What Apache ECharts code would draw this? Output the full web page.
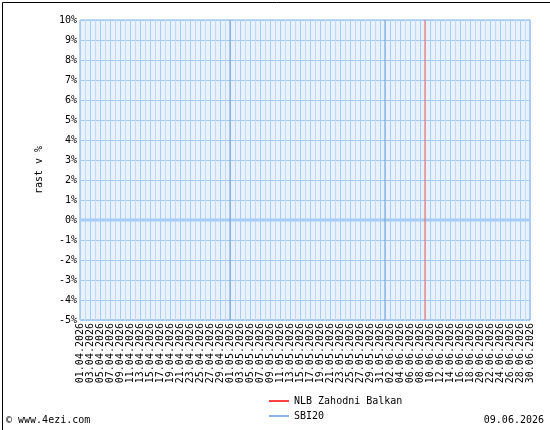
<!DOCTYPE html>
<html>
<head>
<meta charset="utf-8">
<script src="https://cdn.jsdelivr.net/npm/echarts@6/dist/echarts.min.js"></script>
<style>
html,body{margin:0;padding:0;background:#fff;}
#c{width:550px;height:430px;}
</style>
</head>
<body>
<div id="c"></div>
<script>
var categories = [
'01.04.2026','02.04.2026','03.04.2026','04.04.2026','05.04.2026','06.04.2026','07.04.2026','08.04.2026','09.04.2026','10.04.2026',
'11.04.2026','12.04.2026','13.04.2026','14.04.2026','15.04.2026','16.04.2026','17.04.2026','18.04.2026','19.04.2026','20.04.2026',
'21.04.2026','22.04.2026','23.04.2026','24.04.2026','25.04.2026','26.04.2026','27.04.2026','28.04.2026','29.04.2026','30.04.2026',
'01.05.2026','02.05.2026','03.05.2026','04.05.2026','05.05.2026','06.05.2026','07.05.2026','08.05.2026','09.05.2026','10.05.2026',
'11.05.2026','12.05.2026','13.05.2026','14.05.2026','15.05.2026','16.05.2026','17.05.2026','18.05.2026','19.05.2026','20.05.2026',
'21.05.2026','22.05.2026','23.05.2026','24.05.2026','25.05.2026','26.05.2026','27.05.2026','28.05.2026','29.05.2026','30.05.2026',
'31.05.2026','01.06.2026','02.06.2026','03.06.2026','04.06.2026','05.06.2026','06.06.2026','07.06.2026','08.06.2026','09.06.2026',
'10.06.2026','11.06.2026','12.06.2026','13.06.2026','14.06.2026','15.06.2026','16.06.2026','17.06.2026','18.06.2026','19.06.2026',
'20.06.2026','21.06.2026','22.06.2026','23.06.2026','24.06.2026','25.06.2026','26.06.2026','27.06.2026','28.06.2026','29.06.2026',
'30.06.2026'
];
var seriesNames = ['NLB Zahodni Balkan', 'SBI20'];
var nlbValues = [];
var sbiValues = [];
var monthStarts = ['01.05.2026', '01.06.2026'];
var todayLabel = '09.06.2026';
var yMin = -5, yMax = 10, yStep = 1;

var FONT = '"DejaVu Sans Mono", monospace';
function refLine(points, color, width, z) {
  return {
    type: 'line', data: points, silent: true, showSymbol: false, symbol: 'none',
    z: z, animation: false, connectNulls: false,
    lineStyle: {color: color, width: width, type: 'solid'},
    itemStyle: {color: color},
    emphasis: {disabled: true}, tooltip: {show: false}
  };
}
var zeroPts = [[categories[0], 0], [categories[categories.length - 1], 0]];
var monthPts = [];
monthStarts.forEach(function (m, i) {
  if (i > 0) monthPts.push(null);
  monthPts.push([m, yMin], [m, yMax]);
});
var todayPts = [[todayLabel, yMin], [todayLabel, yMax]];

var chart = echarts.init(document.getElementById('c'), null, {renderer: 'canvas'});
chart.setOption({
  animation: false,
  backgroundColor: '#ffffff',
  textStyle: {fontFamily: FONT},
  grid: {
    left: 80, right: 20, top: 20, bottom: 110,
    show: true, backgroundColor: '#e8f2ff', borderColor: '#7fa7d9', borderWidth: 1,
    containLabel: false
  },
  legend: {
    orient: 'vertical', left: 264, top: 391,
    itemWidth: 20, itemHeight: 1.5, itemGap: 5, icon: 'rect',
    textStyle: {fontFamily: FONT, fontSize: 10, color: '#000'},
    data: seriesNames
  },
  xAxis: {
    type: 'category', data: categories, boundaryGap: false,
    axisLine: {show: false}, axisTick: {show: false},
    axisLabel: {interval: 1, rotate: 90, fontFamily: FONT, fontSize: 10, color: '#000', margin: 3},
    splitLine: {show: true, interval: 0, lineStyle: {color: ['#a6cdf5', '#c6d8ec'], width: 1}}
  },
  yAxis: {
    type: 'value', min: yMin, max: yMax, interval: yStep,
    name: 'rast v %', nameLocation: 'middle', nameGap: 36, nameRotate: 90,
    nameTextStyle: {fontFamily: FONT, fontSize: 10, color: '#000'},
    axisLine: {show: false}, axisTick: {show: false},
    axisLabel: {formatter: '{value}%', fontFamily: FONT, fontSize: 10, color: '#000', margin: 3},
    splitLine: {show: true, lineStyle: {color: '#a6cdf5', width: 1}}
  },
  series: [
    refLine(zeroPts, '#a6cdf5', 3, 1),
    refLine(monthPts, '#6f9bd3', 1, 2),
    refLine(todayPts, '#f05a5a', 1, 3),
    {
      name: seriesNames[0], type: 'line', data: nlbValues, showSymbol: false,
      color: '#ff0000', lineStyle: {color: '#ff0000', width: 1}, z: 5
    },
    {
      name: seriesNames[1], type: 'line', data: sbiValues, showSymbol: false,
      color: '#6b9bd2', lineStyle: {color: '#6b9bd2', width: 1}, z: 5
    }
  ],
  graphic: [
    {type: 'rect', left: 0, top: 0, shape: {x: 0.5, y: 0.5, width: 549, height: 429},
     style: {fill: 'none', stroke: '#000', lineWidth: 1}, silent: true},
    {type: 'text', left: 6, top: 415, style: {text: '© www.4ezi.com', font: '10px ' + FONT, fill: '#000'}},
    {type: 'text', right: 6, top: 415, style: {text: '09.06.2026', font: '10px ' + FONT, fill: '#000'}}
  ]
});
</script>
</body>
</html>
